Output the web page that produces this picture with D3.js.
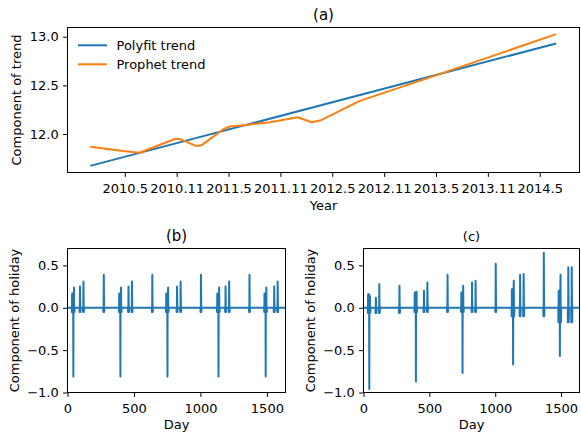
<!DOCTYPE html>
<html lang="en">
<head>
<meta charset="UTF-8">
<title>Trend and holiday components</title>
<script src="https://d3js.org/d3.v7.min.js"></script>
<style>
  body { margin: 0; background: #fff; }
  svg { font-family: "DejaVu Sans", sans-serif; }
  .line { fill: none; stroke-width: 2px; stroke-linejoin: round; }
  .frame { fill: none; stroke: #000; stroke-width: 1px; }
</style>
</head>
<body>
<svg width="581" height="434"></svg>
<script>
// (a) trend, x = months since Jan 2010
const monthTicks = [4, 10, 16, 22, 28, 34, 40, 46, 52];
const monthLabels = ["2010.5", "2010.11", "2011.5", "2011.11", "2012.5", "2012.11", "2013.5", "2013.11", "2014.5"];
const polyMonths = [0, 53.9];
const polyTrend = [11.672, 12.931];
const prophetMonths = [0, 3.8, 5.7, 9.8, 10.4, 12.3, 12.9, 15.4, 16.1, 18.1, 20.8, 24.0, 25.6, 26.6, 31.2, 39.9, 53.9];
const prophetTrend = [11.869, 11.824, 11.807, 11.948, 11.948, 11.876, 11.886, 12.049, 12.076, 12.093, 12.121, 12.172, 12.121, 12.138, 12.341, 12.600, 13.027];
const trendTicks = [12.0, 12.5, 13.0];

// (b), (c) holiday component, x = days since 2010-01-01
const lastDay = 1640;
const dayTicks = [0, 500, 1000, 1500];
const holidayTicks = [-1.0, -0.5, 0.0, 0.5];
const springDays = [44, 398, 752, 1136, 1491];
const qingmingDays = [94, 459, 824, 1189, 1555];
const laborDays = [120, 485, 851, 1216, 1581];
const nationalDays = [273, 638, 1004, 1369];

// (b): the same effect every year
const bSpringPre = [0.17, 0.17, 0.17, 0.17, 0.17];
const bSpringPost = [0.24, 0.24, 0.24, 0.24, 0.24];
const bSpringLow = [-0.81, -0.81, -0.81, -0.81, -0.81];
const bQingming = [0.25, 0.25, 0.25, 0.25, 0.25];
const bLabor = [0.31, 0.31, 0.31, 0.31, 0.31];
const bNational = [0.39, 0.39, 0.39, 0.39];
const bDip = [-0.05, -0.05, -0.05, -0.05, -0.05];

// (c): effect changing year by year
const cSpringPre = [0.16, 0.18, 0.18, 0.22, 0.20];
const cSpringPost = [0.14, 0.19, 0.26, 0.32, 0.39];
const cSpringLow = [-0.96, -0.87, -0.77, -0.67, -0.57];
const cQingming = [0.12, 0.20, 0.30, 0.39, 0.48];
const cLabor = [0.28, 0.30, 0.32, 0.40, 0.48];
const cNational = [0.26, 0.39, 0.52, 0.65];
const cDip = [-0.06, -0.05, -0.05, -0.10, -0.17];

const blue = "#1f77b4", orange = "#ff7f0e";
const fs = 13;
const svg = d3.select("svg");

function holidayPoints(pre, post, low, qm, lab, nat, dip) {
    let pts = [[0, 0], [lastDay, 0]];
    springDays.forEach((d, i) => {
        pts.push([d - 12, 0], [d - 11, dip[i]], [d - 10, 0], [d - 9, pre[i]], [d - 5, pre[i]],
            [d - 2, pre[i]], [d - 1, 0], [d, low[i]], [d + 1, 0], [d + 5, post[i]], [d + 6, 0],
            [d + 8, dip[i]], [d + 10, 0]);
    });
    function single(days, vals) {
        days.forEach((d, i) => {
            pts.push([d - 4, 0], [d - 3, dip[i]], [d - 1, 0], [d, vals[i]], [d + 2, 0],
                [d + 3, dip[i]], [d + 5, 0]);
        });
    }
    single(qingmingDays, qm);
    single(laborDays, lab);
    single(nationalDays, nat);
    return pts.sort((a, b) => a[0] - b[0]);
}

function yAxis(g, y, ticks) {
    g.call(d3.axisLeft(y).tickValues(ticks).tickFormat(d3.format(".1f"))
        .tickSizeInner(4.4).tickSizeOuter(0).tickPadding(4.4));
    g.attr("font-size", fs).attr("font-family", null);
    g.select(".domain").remove();
}

function xAxis(g, x, ticks, fmt) {
    g.call(d3.axisBottom(x).tickValues(ticks).tickFormat(fmt)
        .tickSizeInner(4.4).tickSizeOuter(0).tickPadding(6.4));
    g.attr("font-size", fs).attr("font-family", null);
    g.select(".domain").remove();
}

// ---------- panel (a)
{
    const L = 67.5, R = 579.5, T = 27.5, B = 172.5;
    const x = d3.scaleLinear().domain([-2.63, 56.6]).range([L, R]);
    const y = d3.scaleLinear().domain([11.604, 13.095]).range([B, T]);
    const line = d3.line().x(d => x(d[0])).y(d => y(d[1]));

    svg.append("path").attr("class", "line").attr("stroke", blue)
        .attr("d", line(polyMonths.map((m, i) => [m, polyTrend[i]])));
    svg.append("path").attr("class", "line").attr("stroke", orange)
        .attr("d", line(prophetMonths.map((m, i) => [m, prophetTrend[i]])));

    svg.append("rect").attr("class", "frame").attr("x", L).attr("y", T)
        .attr("width", R - L).attr("height", B - T);
    yAxis(svg.append("g").attr("transform", `translate(${L},0)`), y, trendTicks);
    xAxis(svg.append("g").attr("transform", `translate(0,${B})`), x, monthTicks,
        (d, i) => monthLabels[i]);

    svg.append("text").attr("x", (L + R) / 2).attr("y", T - 8).attr("text-anchor", "middle")
        .attr("font-size", 15).text("(a)");
    svg.append("text").attr("x", (L + R) / 2).attr("y", B + 37.5).attr("text-anchor", "middle")
        .attr("font-size", fs).text("Year");
    svg.append("text").attr("transform", `translate(21,${(T + B) / 2}) rotate(-90)`)
        .attr("text-anchor", "middle").attr("font-size", fs).text("Component of trend");

    // legend
    const legend = [["Polyfit trend", blue], ["Prophet trend", orange]];
    legend.forEach((d, i) => {
        const ly = 45.3 + i * 19;
        svg.append("line").attr("x1", 78).attr("x2", 107).attr("y1", ly).attr("y2", ly)
            .attr("stroke", d[1]).attr("stroke-width", 2);
        svg.append("text").attr("x", 116.5).attr("y", ly).attr("dy", "0.35em")
            .attr("font-size", fs).text(d[0]);
    });
}

// ---------- panels (b) and (c)
const panels = [
    {title: "(b)", L: 67.5, R: 285.5, tfs: 15,
        pts: holidayPoints(bSpringPre, bSpringPost, bSpringLow, bQingming, bLabor, bNational, bDip)},
    {title: "(c)", L: 363.5, R: 579.5, tfs: 13,
        pts: holidayPoints(cSpringPre, cSpringPost, cSpringLow, cQingming, cLabor, cNational, cDip)}
];

panels.forEach(p => {
    const T = 248.5, B = 392.5;
    const x = d3.scaleLinear().domain([0, lastDay]).range([p.L, p.R]);
    const y = d3.scaleLinear().domain([-1.0, 0.7]).range([B, T]);
    const line = d3.line().x(d => x(d[0])).y(d => y(d[1]));

    svg.append("path").attr("class", "line").attr("stroke", blue).attr("d", line(p.pts));

    svg.append("rect").attr("class", "frame").attr("x", p.L).attr("y", T)
        .attr("width", p.R - p.L).attr("height", B - T);
    yAxis(svg.append("g").attr("transform", `translate(${p.L},0)`), y, holidayTicks);
    xAxis(svg.append("g").attr("transform", `translate(0,${B})`), x, dayTicks, d3.format("d"));

    svg.append("text").attr("x", (p.L + p.R) / 2).attr("y", T - 8).attr("text-anchor", "middle")
        .attr("font-size", p.tfs).text(p.title);
    svg.append("text").attr("x", (p.L + p.R) / 2).attr("y", B + 36.5).attr("text-anchor", "middle")
        .attr("font-size", fs).text("Day");
    svg.append("text").attr("transform", `translate(${p.L - 49},${(T + B) / 2}) rotate(-90)`)
        .attr("text-anchor", "middle").attr("font-size", fs).text("Component of holiday");
});
</script>
</body>
</html>
